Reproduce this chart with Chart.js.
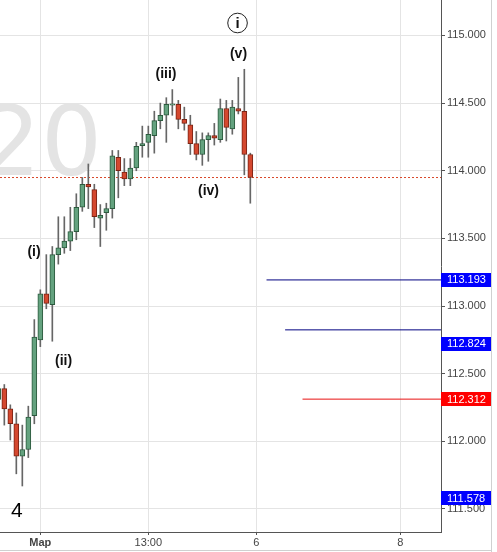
<!DOCTYPE html>
<html>
<head>
<meta charset="utf-8">
<script src="https://cdn.jsdelivr.net/npm/chart.js@4.4.0/dist/chart.umd.min.js"></script>
<style>
  html, body { margin: 0; padding: 0; background: #fff; }
  #wrap { width: 497px; height: 552px; }
</style>
</head>
<body>
<div id="wrap"><canvas id="priceChart" width="497" height="552"></canvas></div>
<script>
// candles, one per period (index on the x axis)
const candleIndex = [-1, 0, 1, 2, 3, 4, 5, 6, 7, 8, 9, 10, 11, 12, 13, 14, 15, 16, 17, 18, 19, 20,
  21, 22, 23, 24, 25, 26, 27, 28, 29, 30, 31, 32, 33, 34, 35, 36, 37, 38, 39, 40, 41];
const opens = [112.31, 112.39, 112.24, 112.13, 111.89, 111.94, 112.19, 112.75, 113.09, 113.01, 113.38,
  113.43, 113.48, 113.55, 113.73, 113.90, 113.86, 113.65, 113.69, 113.72, 114.10, 113.99,
  113.94, 114.02, 114.185, 114.21, 114.26, 114.37, 114.41, 114.485, 114.49, 114.38, 114.34,
  114.20, 114.12, 114.23, 114.26, 114.23, 114.46, 114.31, 114.46, 114.44, 114.12];
const highs = [112.42, 112.42, 112.27, 112.21, 112.12, 112.26, 112.90, 113.12, 113.38, 113.44, 113.66,
  113.66, 113.73, 113.83, 113.95, 114.05, 113.90, 113.75, 113.76, 114.15, 114.15, 114.09,
  114.09, 114.21, 114.33, 114.33, 114.44, 114.50, 114.54, 114.60, 114.52, 114.47, 114.41,
  114.29, 114.28, 114.28, 114.35, 114.53, 114.52, 114.52, 114.69, 114.75, 114.13];
const lows = [112.28, 112.12, 112.01, 111.76, 111.67, 111.88, 112.13, 112.70, 112.98, 112.74, 113.31,
  113.39, 113.41, 113.49, 113.70, 113.72, 113.58, 113.44, 113.56, 113.65, 113.80, 113.89,
  113.89, 114.00, 114.10, 114.10, 114.13, 114.31, 114.21, 114.41, 114.31, 114.30, 114.12,
  114.08, 114.04, 114.07, 114.19, 114.21, 114.22, 114.27, 114.42, 113.97, 113.76];
const closes = [112.39, 112.24, 112.13, 111.89, 111.94, 112.18, 112.77, 113.09, 113.02, 113.38, 113.43,
  113.48, 113.55, 113.73, 113.90, 113.88, 113.66, 113.67, 113.72, 114.11, 114.00, 113.94,
  114.02, 114.18, 114.20, 114.27, 114.37, 114.41, 114.49, 114.495, 114.38, 114.35, 114.20,
  114.12, 114.23, 114.26, 114.24, 114.46, 114.32, 114.47, 114.44, 114.12, 113.95];

// axes
const xTickPos = [6, 24, 42, 66];
const xTickLabels = ['Map', '13:00', '6', '8'];
const yTickValues = [111.5, 112, 112.5, 113, 113.5, 114, 114.5, 115];
const xMin = -0.72, xMax = 72.78;
const yMin = 111.33, yMax = 115.262;

// price levels on the right
const levelValues = [113.193, 112.824, 112.312, 111.578];
const levelStarts = [43.7, 46.8, 49.7, null];

// elliott wave labels
const waveLabels = ['(i)', '(ii)', '(iii)', '(iv)', '(v)'];
const waveX = [4.95, 9.87, 26.95, 34.03, 39.03];
const waveY = [113.40, 112.59, 114.715, 113.85, 114.86];
const circleLabel = 'i';
const circleX = 38.87, circleY = 115.092;

const levelLineColors = ['#000080', '#000080', '#e81010', null];
const levelBoxColors = ['#0000ff', '#0000ff', '#ff0000', '#0000ff'];
const levelBoxShift = [0, 14, 0, 0];

const isUp = opens.map((o, i) => closes[i] >= o);
const bodyFill = isUp.map(u => u ? '#64a27f' : '#d4482f');
const bodyBorder = isUp.map(u => u ? '#2c5a3e' : '#7a2414');

const wickData = candleIndex.map((k, i) => ({ x: k, y: [lows[i], highs[i]] }));
const bodyData = candleIndex.map((k, i) => ({ x: k, y: [opens[i], closes[i]] }));

const levelSets = levelValues.map((v, i) => levelStarts[i] === null ? null : {
  type: 'line',
  data: [{ x: levelStarts[i], y: v }, { x: xMax, y: v }],
  borderColor: levelLineColors[i],
  borderWidth: 1,
  pointRadius: 0,
  order: 3
}).filter(Boolean);

const lastClose = closes[closes.length - 1];

const decor = {
  id: 'decor',
  beforeDraw(chart) {
    const c = chart.ctx;
    c.save();
    c.fillStyle = '#fff';
    c.fillRect(0, 0, chart.width, chart.height);
    c.font = '96px "DejaVu Sans"';
    c.fillStyle = '#e4e4e4';
    c.textAlign = 'right';
    c.textBaseline = 'alphabetic';
    c.fillText('20', 102, 175);
    c.restore();
  },
  afterDatasetsDraw(chart) {
    const c = chart.ctx;
    const xs = chart.scales.x, ys = chart.scales.y;
    c.save();
    c.fillStyle = '#111';
    c.font = 'bold 14px Arial, "Liberation Sans"';
    c.textAlign = 'center';
    c.textBaseline = 'middle';
    waveLabels.forEach((t, i) => {
      c.fillText(t, xs.getPixelForValue(waveX[i]), ys.getPixelForValue(waveY[i]));
    });
    const cx = xs.getPixelForValue(circleX), cy = ys.getPixelForValue(circleY);
    c.beginPath();
    c.arc(cx, cy, 9.8, 0, Math.PI * 2);
    c.strokeStyle = '#222';
    c.lineWidth = 1;
    c.stroke();
    c.font = 'bold 15px Arial, "Liberation Sans"';
    c.fillText(circleLabel, cx, cy + 1);
    c.restore();
  },
  afterDraw(chart) {
    const c = chart.ctx;
    const ys = chart.scales.y;
    const area = chart.chartArea;
    c.save();
    c.font = '11px Arial, "Liberation Sans"';
    c.textBaseline = 'middle';
    c.textAlign = 'left';
    levelValues.forEach((v, i) => {
      const y = ys.getPixelForValue(v) + levelBoxShift[i];
      c.fillStyle = levelBoxColors[i];
      c.fillRect(area.right, Math.round(y) - 7, 50, 14);
      c.fillStyle = '#fff';
      c.fillText(v.toFixed(3), area.right + 6, y + 0.5);
    });
    c.fillStyle = '#000';
    c.font = '21px Arial, "Liberation Sans"';
    c.textBaseline = 'alphabetic';
    c.fillText('4', 11, 517);
    c.strokeStyle = '#d0d0d0';
    c.lineWidth = 1;
    c.beginPath();
    c.moveTo(491.5, 0); c.lineTo(491.5, 552);
    c.moveTo(0, 550.5); c.lineTo(491.5, 550.5);
    c.stroke();
    c.restore();
  }
};

const ctx = document.getElementById('priceChart').getContext('2d');

new Chart(ctx, {
  type: 'bar',
  data: {
    datasets: [
      {
        // last price, dotted
        type: 'line',
        data: [{ x: xMin, y: lastClose }, { x: xMax, y: lastClose }],
        borderColor: '#d9482a',
        borderWidth: 1,
        borderDash: [2, 2],
        pointRadius: 0,
        order: 4
      },
      ...levelSets,
      {
        data: wickData,
        backgroundColor: '#666',
        barThickness: 1,
        grouped: false,
        order: 2
      },
      {
        data: bodyData,
        backgroundColor: bodyFill,
        borderColor: bodyBorder,
        borderWidth: 1,
        borderSkipped: false,
        barThickness: 5,
        grouped: false,
        order: 1
      }
    ]
  },
  options: {
    responsive: false,
    animation: false,
    layout: { padding: 0 },
    plugins: {
      legend: { display: false },
      tooltip: { enabled: false }
    },
    scales: {
      x: {
        type: 'linear',
        min: xMin,
        max: xMax,
        offset: false,
        afterBuildTicks: s => { s.ticks = xTickPos.map(v => ({ value: v })); },
        afterFit: s => { s.height = 20; s.paddingLeft = 0; s.paddingRight = 0; },
        grid: { color: '#e4e4e4', offset: false, tickColor: '#555', tickLength: 3 },
        border: { color: '#555' },
        ticks: {
          color: '#444',
          autoSkip: false,
          maxRotation: 0,
          padding: 1,
          callback: (v, i) => xTickLabels[i],
          font: c => ({ family: 'Arial, "Liberation Sans"', size: 11, weight: c.index === 0 ? 'bold' : 'normal' })
        }
      },
      y: {
        type: 'linear',
        position: 'right',
        min: yMin,
        max: yMax,
        afterBuildTicks: s => { s.ticks = yTickValues.map(v => ({ value: v })); },
        afterFit: s => { s.width = 56; s.paddingTop = 0; s.paddingBottom = 0; },
        grid: { color: '#e4e4e4', tickColor: '#555', tickLength: 4 },
        border: { color: '#555' },
        ticks: {
          color: '#444',
          padding: 2,
          font: { family: 'Arial, "Liberation Sans"', size: 11 },
          callback: v => Number(v).toFixed(3)
        }
      }
    }
  },
  plugins: [decor]
});
</script>
</body>
</html>
